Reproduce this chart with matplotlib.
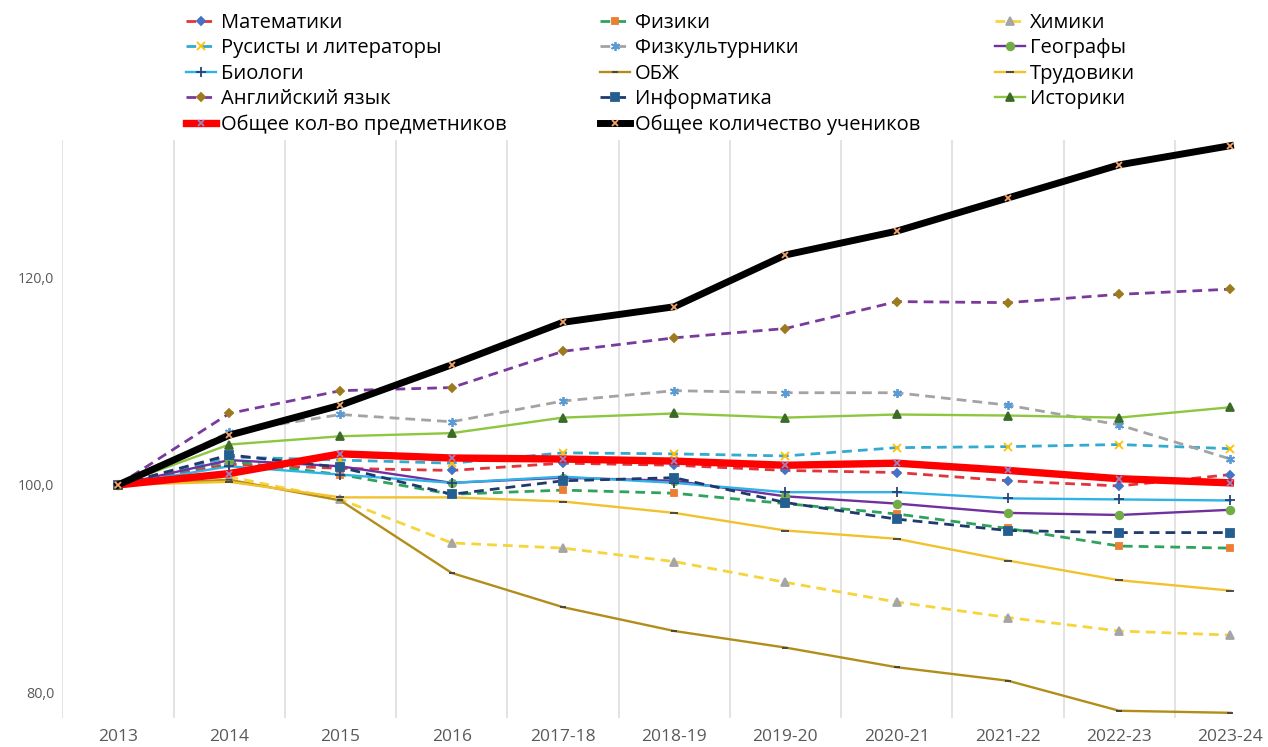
import matplotlib
matplotlib.use('Agg')
import matplotlib.pyplot as plt
from matplotlib.ticker import FixedLocator, FuncFormatter

plt.rcParams['font.family'] = ['Open Sans', 'DejaVu Sans']

years = ['2013', '2014', '2015', '2016', '2017-18', '2018-19', '2019-20',
         '2020-21', '2021-22', '2022-23', '2023-24']

# индексы, 2013 = 100
matematiki = [100, 102.0, 101.6, 101.4, 102.1, 101.9, 101.4, 101.2, 100.4, 99.9, 101.0]
fiziki = [100, 102.3, 101.0, 99.1, 99.5, 99.2, 98.2, 97.2, 95.8, 94.1, 93.9]
himiki = [100, 100.8, 98.6, 94.4, 93.9, 92.6, 90.6, 88.7, 87.2, 85.9, 85.5]
rusisty = [100, 102.7, 102.4, 102.1, 103.1, 103.0, 102.8, 103.6, 103.7, 103.9, 103.5]
fizkultura = [100, 105.1, 106.8, 106.1, 108.1, 109.1, 108.9, 108.9, 107.7, 105.8, 102.5]
geografy = [100, 102.4, 101.8, 100.2, 100.7, 100.4, 98.9, 98.2, 97.3, 97.1, 97.6]
biologi = [100, 101.8, 101.0, 100.2, 100.8, 100.2, 99.3, 99.3, 98.7, 98.6, 98.5]
obzh = [100, 100.5, 98.5, 91.5, 88.2, 85.9, 84.3, 82.4, 81.1, 78.2, 78.0]
trudoviki = [100, 100.3, 98.8, 98.8, 98.4, 97.3, 95.6, 94.8, 92.7, 90.8, 89.8]
english = [100, 106.9, 109.1, 109.4, 112.9, 114.2, 115.1, 117.7, 117.6, 118.4, 118.9]
informatika = [100, 102.9, 101.7, 99.1, 100.4, 100.7, 98.3, 96.7, 95.6, 95.4, 95.4]
istoriki = [100, 103.9, 104.7, 105.0, 106.5, 106.9, 106.5, 106.8, 106.7, 106.5, 107.5]
vsego_predm = [100, 101.1, 103.0, 102.6, 102.5, 102.3, 101.9, 102.1, 101.4, 100.6, 100.2]
vsego_uchen = [100, 104.8, 107.7, 111.6, 115.7, 117.2, 122.2, 124.5, 127.7, 130.9, 132.75]

y_ticks = [80, 100, 120]

dash = (0, (3.5, 2.2))
# (подпись, данные, цвет линии, стиль, толщина, маркер, цвет маркера, размер)
series = [
    ('Математики', matematiki, '#E0353A', dash, 2, 'D', '#4472C4', 3.8),
    ('Физики', fiziki, '#2FA35E', dash, 2, 's', '#ED7D31', 5),
    ('Химики', himiki, '#F5D43C', dash, 2, '^', '#A5A5A5', 5.5),
    ('Русисты и литераторы', rusisty, '#33AAD0', dash, 2, 'x', '#FFC000', 5.5),
    ('Физкультурники', fizkultura, '#A3A3A3', dash, 2, (6, 2, 0), '#5B9BD5', 6.5),
    ('Географы', geografy, '#7030A0', '-', 1.7, 'o', '#70AD47', 5.5),
    ('Биологи', biologi, '#2FB2E6', '-', 1.7, '+', '#264478', 6.5),
    ('ОБЖ', obzh, '#B38D1A', '-', 1.7, '_', '#404040', 4.5),
    ('Трудовики', trudoviki, '#F2C12E', '-', 1.7, '_', '#404040', 5.5),
    ('Английский язык', english, '#7A3A9C', dash, 2, 'D', '#9C7A1E', 4),
    ('Информатика', informatika, '#1F3A6B', dash, 2, 's', '#255E91', 5.5),
    ('Историки', istoriki, '#8DC63F', '-', 1.7, '^', '#3B6B27', 6),
    ('Общее кол-во предметников', vsego_predm, '#FF0000', '-', 5.3, 'x', '#9A84C4', 4),
    ('Общее количество учеников', vsego_uchen, '#000000', '-', 5, 'x', '#F4A46A', 4),
]

fig = plt.figure(figsize=(12.68, 7.47), dpi=100)
ax = fig.add_axes([62.4 / 1268, 1 - 718 / 747, (1286 - 62.4) / 1268, (718 - 140) / 747])

x = list(range(len(years)))
handles = []
for label, vals, color, ls, lw, marker, mcolor, ms in series:
    h, = ax.plot(x, vals, color=color, linestyle=ls, linewidth=lw, marker=marker,
                 markersize=ms, markerfacecolor=mcolor, markeredgecolor=mcolor,
                 markeredgewidth=1.3, label=label)
    handles.append(h)

ax.set_xlim(-0.5, len(years) - 0.5)
ax.set_ylim(77.5, 133.3)
ax.set_xticks(x)
ax.set_xticklabels(years)
ax.yaxis.set_major_locator(FixedLocator(y_ticks))
ax.yaxis.set_major_formatter(FuncFormatter(lambda v, p: f'{v:.1f}'.replace('.', ',')))
ax.tick_params(axis='both', length=0, labelcolor='#595959')
ax.tick_params(axis='x', pad=8, labelsize=12.5)
ax.tick_params(axis='y', pad=6, labelsize=10.3)

for s in ax.spines.values():
    s.set_visible(False)
for b in [i - 0.5 for i in range(len(years))]:
    ax.axvline(b, color='#DEDEDE', linewidth=1.2, zorder=0)

# легенда как в Excel: 3 колонки, заполнение по строкам
columns = [[0, 3, 6, 9, 12], [1, 4, 7, 10, 13], [2, 5, 8, 11]]
col_x = [186, 600, 995]
for idx, cx in zip(columns, col_x):
    fig.legend([handles[i] for i in idx], [series[i][0] for i in idx],
               loc='upper left', bbox_to_anchor=(cx / 1268, 1 - 13 / 747),
               frameon=False, fontsize=14.5, borderpad=0, borderaxespad=0,
               handlelength=1.5, handletextpad=0.25, labelspacing=0.27)

fig.savefig('out.png', dpi=100)
